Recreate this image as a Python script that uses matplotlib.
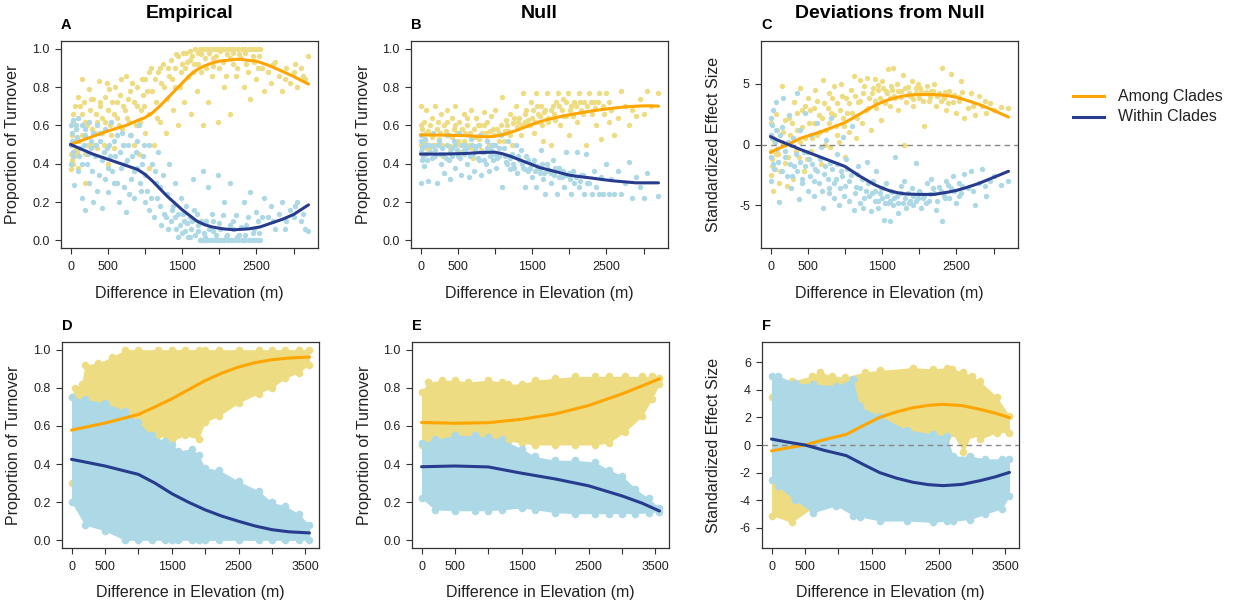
import numpy as np
import matplotlib.pyplot as plt
from matplotlib.lines import Line2D

plt.rcParams['font.family'] = ['Liberation Sans', 'DejaVu Sans']

YELLOW = '#EEDC82'
LBLUE = '#ADD8E6'
ORANGE = '#FFA500'
NAVY = '#283C8E'

# ---------------- panel A : empirical, sampled pairs ----------------
a_among = np.array([
    (0, 0.37), (0, 0.45), (10, 0.5), (20, 0.55), (30, 0.62), (40, 0.4), (50, 0.44), (60, 0.7),
    (80, 0.48), (100, 0.75), (100, 0.38), (120, 0.52), (150, 0.66), (150, 0.84), (180, 0.72),
    (200, 0.45), (200, 0.3), (220, 0.6), (250, 0.79), (260, 0.68), (300, 0.5), (300, 0.74),
    (330, 0.56), (350, 0.62), (380, 0.83), (400, 0.7), (420, 0.64), (450, 0.5), (470, 0.75),
    (500, 0.4), (500, 0.68), (520, 0.79), (550, 0.55), (580, 0.66), (600, 0.8), (620, 0.72),
    (650, 0.6), (680, 0.84), (700, 0.7), (720, 0.5), (750, 0.86), (760, 0.64), (800, 0.78),
    (820, 0.55), (850, 0.72), (880, 0.6), (900, 0.8), (920, 0.45), (950, 0.68), (980, 0.76),
    (1000, 0.56), (1000, 0.84), (1050, 0.38), (1050, 0.66), (1080, 0.9), (1100, 0.78),
    (1120, 0.5), (1150, 0.72), (1180, 0.88), (1200, 0.62), (1220, 0.82), (1250, 0.92),
    (1280, 0.56), (1300, 0.74), (1320, 0.86), (1350, 0.94), (1380, 0.68), (1400, 0.8),
    (1420, 0.97), (1450, 0.6), (1480, 0.88), (1500, 0.92), (1520, 0.72), (1550, 0.98),
    (1580, 0.85), (1600, 0.94), (1620, 0.66), (1650, 0.88), (1680, 1.0), (1700, 0.78),
    (1720, 0.92), (1750, 0.97), (1780, 0.6), (1800, 1.0), (1820, 0.9), (1850, 0.72),
    (1880, 1.0), (1900, 0.86), (1920, 0.95), (1950, 1.0), (1980, 0.62), (2000, 0.9),
    (2030, 1.0), (2060, 0.8), (2100, 0.97), (2120, 1.0), (2150, 0.66), (2180, 0.92),
    (2200, 1.0), (2230, 0.86), (2260, 0.97), (2300, 1.0), (2330, 0.8), (2360, 0.92),
    (2400, 1.0), (2420, 0.74), (2450, 0.96), (2480, 1.0), (2500, 0.84), (2520, 0.9),
    (2550, 1.0), (2600, 0.78), (2650, 0.88), (2700, 0.82), (2750, 0.93), (2800, 0.86),
    (2850, 0.78), (2900, 0.9), (2950, 0.82), (3000, 0.88), (3050, 0.8), (3100, 0.9),
    (3150, 0.84), (3200, 0.96),
    (1740, 1.0), (1780, 1.0), (1840, 1.0), (1920, 1.0), (1990, 1.0), (2070, 1.0),
    (2160, 1.0), (2250, 1.0), (2340, 1.0), (2440, 1.0), (2520, 1.0),
    (15, 0.42), (35, 0.66), (70, 0.58), (90, 0.46), (130, 0.7), (160, 0.55), (190, 0.62),
    (240, 0.5), (270, 0.74), (290, 0.58), (340, 0.66), (360, 0.48), (390, 0.72), (430, 0.56),
    (460, 0.62), (490, 0.82), (530, 0.6), (560, 0.72), (590, 0.48), (630, 0.64), (660, 0.76),
    (690, 0.58), (730, 0.68), (770, 0.74), (790, 0.62), (830, 0.82), (860, 0.5), (890, 0.7),
    (930, 0.62), (960, 0.84), (990, 0.7), (1030, 0.78), (1060, 0.88), (1130, 0.84),
    (1160, 0.64), (1210, 0.9), (1260, 0.8), (1310, 0.9), (1360, 0.84), (1410, 0.9),
    (1440, 0.96), (1470, 0.8), (1510, 0.98), (1540, 0.9), (1570, 0.93), (1610, 0.99),
    (1640, 0.96), (1660, 0.92), (1710, 0.98), (1760, 0.88), (1810, 0.95), (1860, 0.98),
    (1910, 0.91), (1960, 0.96), (2010, 0.99), (2050, 0.93), (2090, 0.86), (2140, 0.95),
    (2190, 0.98), (2240, 0.9), (2290, 0.95), (2350, 0.98), (2390, 0.88), (2470, 0.93),
    (2540, 0.96), (2580, 0.9), (2720, 0.92), (2880, 0.84), (3020, 0.92), (3120, 0.86),
])
a_within = np.array([
    (0, 0.6), (0, 0.5), (10, 0.4), (20, 0.56), (30, 0.63), (40, 0.46), (50, 0.29), (60, 0.52),
    (80, 0.58), (100, 0.36), (100, 0.64), (120, 0.44), (150, 0.6), (150, 0.22), (180, 0.5),
    (200, 0.16), (200, 0.55), (220, 0.4), (250, 0.62), (250, 0.3), (280, 0.48), (300, 0.56),
    (300, 0.2), (330, 0.44), (350, 0.6), (380, 0.34), (400, 0.52), (420, 0.17), (450, 0.46),
    (470, 0.58), (500, 0.38), (500, 0.25), (520, 0.5), (550, 0.62), (580, 0.3), (600, 0.44),
    (620, 0.55), (650, 0.2), (680, 0.38), (700, 0.5), (720, 0.28), (750, 0.15), (760, 0.42),
    (800, 0.55), (820, 0.32), (850, 0.22), (880, 0.46), (900, 0.38), (920, 0.6), (950, 0.26),
    (980, 0.44), (1000, 0.2), (1000, 0.34), (1050, 0.5), (1080, 0.22), (1100, 0.4),
    (1120, 0.12), (1150, 0.3), (1180, 0.46), (1200, 0.18), (1220, 0.08), (1250, 0.34),
    (1280, 0.12), (1300, 0.24), (1320, 0.4), (1350, 0.1), (1380, 0.18), (1400, 0.3),
    (1420, 0.06), (1450, 0.14), (1480, 0.22), (1500, 0.04), (1520, 0.1), (1550, 0.18),
    (1580, 0.02), (1600, 0.12), (1620, 0.06), (1650, 0.32), (1680, 0.03), (1700, 0.14),
    (1720, 0.08), (1750, 0.0), (1780, 0.36), (1800, 0.04), (1820, 0.1), (1850, 0.28),
    (1880, 0.0), (1900, 0.14), (1920, 0.05), (1950, 0.0), (1980, 0.34), (2000, 0.09),
    (2030, 0.0), (2060, 0.2), (2100, 0.03), (2120, 0.0), (2150, 0.3), (2180, 0.06),
    (2200, 0.0), (2230, 0.13), (2260, 0.03), (2300, 0.0), (2330, 0.2), (2360, 0.08),
    (2400, 0.0), (2420, 0.25), (2450, 0.04), (2480, 0.0), (2500, 0.15), (2520, 0.1),
    (2550, 0.0), (2600, 0.22), (2650, 0.12), (2700, 0.18), (2750, 0.06), (2800, 0.14),
    (2850, 0.2), (2900, 0.1), (2950, 0.16), (3000, 0.12), (3050, 0.2), (3100, 0.1),
    (3150, 0.06), (3200, 0.05),
    (1740, 0.0), (1790, 0.0), (1840, 0.0), (1910, 0.0), (1990, 0.0), (2070, 0.0),
    (2160, 0.0), (2250, 0.0), (2340, 0.0), (2440, 0.0), (2520, 0.0),
    (15, 0.52), (35, 0.44), (70, 0.6), (90, 0.54), (130, 0.48), (160, 0.4), (190, 0.58),
    (240, 0.45), (270, 0.52), (290, 0.36), (340, 0.5), (360, 0.26), (390, 0.56), (430, 0.42),
    (460, 0.32), (490, 0.48), (530, 0.44), (560, 0.36), (590, 0.52), (630, 0.3), (660, 0.46),
    (690, 0.56), (730, 0.4), (770, 0.5), (790, 0.24), (830, 0.44), (860, 0.36), (890, 0.52),
    (930, 0.3), (960, 0.4), (990, 0.5), (1030, 0.26), (1060, 0.16), (1130, 0.36),
    (1160, 0.22), (1210, 0.28), (1260, 0.14), (1310, 0.06), (1360, 0.16), (1410, 0.12),
    (1440, 0.02), (1470, 0.08), (1510, 0.14), (1540, 0.05), (1570, 0.09), (1610, 0.02),
    (1640, 0.1), (1660, 0.16), (1710, 0.05), (1760, 0.1), (1810, 0.02), (1860, 0.06),
    (1910, 0.1), (1960, 0.03), (2010, 0.06), (2050, 0.13), (2090, 0.02), (2140, 0.08),
    (2190, 0.1), (2240, 0.02), (2290, 0.07), (2350, 0.03), (2390, 0.12), (2470, 0.06),
    (2540, 0.04), (2580, 0.12), (2720, 0.1), (2880, 0.06), (3020, 0.18), (3120, 0.14),
])
a_among_fit = np.array([
    (0, 0.50), (250, 0.535), (500, 0.57), (750, 0.60), (900, 0.625), (1000, 0.64),
    (1100, 0.665), (1200, 0.70), (1300, 0.74), (1400, 0.78), (1500, 0.82), (1600, 0.86),
    (1700, 0.89), (1800, 0.91), (1900, 0.925), (2000, 0.935), (2250, 0.945), (2500, 0.935),
    (2650, 0.915), (2800, 0.89), (3000, 0.855), (3200, 0.815),
])
a_within_fit = np.array([
    (0, 0.50), (150, 0.475), (300, 0.45), (600, 0.41), (900, 0.37), (1000, 0.345),
    (1100, 0.31), (1200, 0.27), (1300, 0.23), (1400, 0.195), (1500, 0.16), (1600, 0.13),
    (1700, 0.10), (1800, 0.082), (1900, 0.07), (2050, 0.06), (2200, 0.055), (2400, 0.06),
    (2550, 0.07), (2700, 0.09), (2850, 0.11), (3000, 0.135), (3200, 0.185),
])

# ---------------- panel B : null, sampled pairs ----------------
b_among = np.array([
    (0, 0.7), (0, 0.6), (10, 0.5), (20, 0.55), (30, 0.45), (50, 0.62), (60, 0.52), (80, 0.68),
    (100, 0.57), (120, 0.47), (150, 0.64), (170, 0.5), (200, 0.7), (220, 0.58), (250, 0.53),
    (270, 0.66), (300, 0.44), (320, 0.6), (350, 0.68), (380, 0.55), (400, 0.49), (420, 0.64),
    (450, 0.58), (470, 0.7), (500, 0.52), (520, 0.62), (550, 0.46), (580, 0.66), (600, 0.56),
    (620, 0.6), (650, 0.5), (680, 0.68), (700, 0.43), (720, 0.58), (750, 0.64), (780, 0.53),
    (800, 0.6), (820, 0.47), (850, 0.67), (880, 0.56), (900, 0.62), (920, 0.5), (950, 0.65),
    (980, 0.58), (1000, 0.68), (1020, 0.45), (1050, 0.56), (1080, 0.6), (1100, 0.75),
    (1120, 0.52), (1150, 0.63), (1180, 0.57), (1200, 0.66), (1230, 0.5), (1250, 0.61),
    (1280, 0.7), (1300, 0.59), (1320, 0.64), (1350, 0.55), (1380, 0.77), (1400, 0.62),
    (1420, 0.68), (1450, 0.6), (1480, 0.72), (1500, 0.64), (1520, 0.56), (1550, 0.77),
    (1580, 0.66), (1600, 0.62), (1620, 0.7), (1650, 0.52), (1680, 0.68), (1700, 0.77),
    (1720, 0.64), (1750, 0.5), (1780, 0.7), (1800, 0.66), (1820, 0.72), (1850, 0.77),
    (1880, 0.6), (1900, 0.68), (1920, 0.74), (1950, 0.65), (1980, 0.77), (2000, 0.55),
    (2030, 0.7), (2060, 0.72), (2100, 0.62), (2130, 0.77), (2160, 0.68), (2200, 0.72),
    (2230, 0.5), (2260, 0.77), (2300, 0.66), (2330, 0.72), (2360, 0.6), (2400, 0.77),
    (2430, 0.53), (2460, 0.7), (2500, 0.77), (2530, 0.62), (2560, 0.68), (2600, 0.55),
    (2650, 0.64), (2700, 0.78), (2750, 0.7), (2800, 0.6), (2850, 0.68), (2900, 0.65),
    (2950, 0.74), (3000, 0.66), (3050, 0.78), (3100, 0.7), (3200, 0.77),
    (15, 0.58), (40, 0.52), (70, 0.56), (90, 0.48), (130, 0.6), (160, 0.54), (190, 0.5),
    (240, 0.62), (260, 0.56), (290, 0.5), (340, 0.57), (360, 0.62), (390, 0.48), (430, 0.54),
    (460, 0.6), (490, 0.56), (530, 0.5), (560, 0.58), (590, 0.52), (630, 0.64), (660, 0.56),
    (690, 0.48), (730, 0.54), (770, 0.6), (790, 0.5), (830, 0.56), (860, 0.6), (890, 0.52),
    (930, 0.57), (960, 0.5), (990, 0.55), (1030, 0.58), (1060, 0.52), (1130, 0.57),
    (1160, 0.6), (1210, 0.55), (1260, 0.64), (1310, 0.62), (1360, 0.6), (1410, 0.66),
    (1440, 0.63), (1470, 0.6), (1510, 0.68), (1540, 0.62), (1570, 0.7), (1610, 0.65),
    (1640, 0.6), (1660, 0.67), (1710, 0.62), (1760, 0.68), (1810, 0.63), (1860, 0.7),
    (1910, 0.65), (1960, 0.72), (2010, 0.68), (2050, 0.65), (2090, 0.7), (2140, 0.72),
    (2190, 0.66), (2240, 0.7), (2290, 0.72), (2350, 0.69), (2390, 0.72), (2470, 0.66),
    (2540, 0.72),
])
b_within = np.array([
    (0, 0.52), (0, 0.46), (0, 0.3), (10, 0.55), (20, 0.42), (30, 0.49), (50, 0.39), (60, 0.53),
    (80, 0.45), (100, 0.31), (120, 0.5), (150, 0.43), (170, 0.56), (200, 0.47), (220, 0.3),
    (250, 0.52), (270, 0.4), (300, 0.45), (320, 0.35), (350, 0.55), (380, 0.42), (400, 0.32),
    (420, 0.48), (450, 0.52), (470, 0.38), (500, 0.44), (520, 0.56), (550, 0.34), (580, 0.47),
    (600, 0.5), (620, 0.4), (650, 0.33), (680, 0.53), (700, 0.45), (720, 0.36), (750, 0.49),
    (780, 0.42), (800, 0.55), (820, 0.34), (850, 0.46), (880, 0.4), (900, 0.52), (920, 0.36),
    (950, 0.47), (980, 0.42), (1000, 0.5), (1020, 0.38), (1050, 0.44), (1080, 0.55),
    (1100, 0.28), (1120, 0.48), (1150, 0.41), (1180, 0.52), (1200, 0.37), (1230, 0.45),
    (1250, 0.4), (1280, 0.5), (1300, 0.35), (1320, 0.42), (1350, 0.47), (1380, 0.38),
    (1400, 0.28), (1420, 0.44), (1450, 0.36), (1480, 0.4), (1500, 0.33), (1520, 0.42),
    (1550, 0.28), (1580, 0.38), (1600, 0.35), (1620, 0.47), (1650, 0.32), (1680, 0.24),
    (1700, 0.4), (1720, 0.36), (1750, 0.3), (1780, 0.42), (1800, 0.34), (1830, 0.24),
    (1860, 0.38), (1900, 0.33), (1930, 0.28), (1960, 0.46), (2000, 0.35), (2030, 0.24),
    (2060, 0.3), (2100, 0.46), (2130, 0.28), (2160, 0.34), (2200, 0.24), (2230, 0.45),
    (2260, 0.3), (2300, 0.24), (2330, 0.36), (2360, 0.28), (2400, 0.24), (2430, 0.33),
    (2460, 0.24), (2500, 0.4), (2530, 0.24), (2560, 0.32), (2600, 0.24), (2650, 0.36),
    (2700, 0.24), (2750, 0.3), (2800, 0.41), (2850, 0.22), (2900, 0.33), (2950, 0.28),
    (3000, 0.22), (3050, 0.35), (3200, 0.23),
    (15, 0.48), (40, 0.44), (70, 0.5), (90, 0.42), (130, 0.46), (160, 0.49), (190, 0.44),
    (240, 0.5), (260, 0.45), (290, 0.48), (340, 0.43), (360, 0.5), (390, 0.46), (430, 0.44),
    (460, 0.5), (490, 0.47), (530, 0.43), (560, 0.5), (590, 0.45), (630, 0.48), (660, 0.44),
    (690, 0.5), (730, 0.47), (770, 0.43), (790, 0.5), (830, 0.46), (860, 0.42), (890, 0.48),
    (930, 0.44), (960, 0.5), (990, 0.45), (1030, 0.43), (1060, 0.48), (1130, 0.44),
    (1160, 0.4), (1210, 0.43), (1260, 0.38), (1310, 0.44), (1360, 0.4), (1410, 0.37),
    (1440, 0.42), (1470, 0.38), (1510, 0.4), (1540, 0.36), (1570, 0.39), (1610, 0.37),
    (1640, 0.4), (1660, 0.35), (1710, 0.37), (1760, 0.35), (1810, 0.38), (1860, 0.33),
    (1910, 0.36), (1960, 0.34), (2010, 0.32), (2050, 0.36), (2090, 0.33), (2140, 0.31),
    (2190, 0.34), (2240, 0.3),
])
b_among_fit = np.array([
    (0, 0.55), (300, 0.549), (600, 0.546), (900, 0.54), (1000, 0.543), (1100, 0.55),
    (1200, 0.562), (1300, 0.575), (1400, 0.59), (1500, 0.605), (1600, 0.618), (1700, 0.63),
    (1850, 0.643), (2000, 0.655), (2150, 0.665), (2300, 0.675), (2450, 0.683), (2600, 0.69),
    (2750, 0.696), (2900, 0.70), (3050, 0.702), (3200, 0.70),
])
b_within_fit = np.array([
    (0, 0.45), (300, 0.45), (600, 0.453), (800, 0.458), (1000, 0.46), (1100, 0.452),
    (1200, 0.44), (1300, 0.425), (1400, 0.41), (1500, 0.395), (1600, 0.38), (1700, 0.37),
    (1800, 0.36), (1900, 0.35), (2000, 0.34), (2150, 0.332), (2300, 0.325), (2450, 0.317),
    (2600, 0.31), (2750, 0.305), (2900, 0.30), (3200, 0.30),
])

# ---------------- panel C : deviations, sampled pairs ----------------
c_among = np.array([
    (0, -0.5), (0, 0.8), (0, -2.5), (10, 1.8), (20, -1.2), (30, -3.8), (50, 0.3), (60, -2.0),
    (80, 2.5), (100, -0.8), (120, -3.2), (150, 4.8), (170, 1.0), (200, -1.5), (220, -3.4),
    (250, 2.2), (270, 0.0), (300, -2.8), (320, 3.5), (350, 1.2), (380, -1.0), (400, 4.6),
    (420, 2.8), (450, -2.2), (470, 0.5), (500, 3.8), (520, 1.8), (550, -0.5), (580, 3.0),
    (600, 4.5), (620, 0.8), (650, 2.4), (680, -1.6), (700, 5.3), (720, 3.4), (750, 1.2),
    (780, 4.2), (800, -0.2), (820, 2.6), (850, 4.8), (880, 1.5), (900, 3.4), (920, 0.2),
    (950, 5.0), (980, 2.2), (1000, -1.0), (1020, 3.8), (1050, 1.0), (1080, 4.5), (1100, 2.6),
    (1120, 5.6), (1150, 0.5), (1180, 3.5), (1200, 5.3), (1230, 1.8), (1250, 4.2), (1280, 2.8),
    (1300, 5.5), (1320, 3.8), (1350, 1.2), (1380, 4.6), (1400, 5.4), (1420, 3.0), (1450, 4.9),
    (1480, 2.0), (1500, 5.2), (1520, 3.6), (1550, 4.4), (1580, 6.2), (1600, 3.2), (1620, 4.8),
    (1650, 6.3), (1680, 3.8), (1700, 5.0), (1720, 2.8), (1750, 4.4), (1780, 5.7), (1800, 0.0),
    (1820, 3.5), (1850, 4.7), (1880, 4.0), (1900, 5.2), (1920, 3.2), (1950, 4.6), (1980, 5.0),
    (2000, 3.8), (2030, 4.3), (2060, 1.5), (2100, 4.8), (2130, 3.6), (2160, 4.4), (2200, 5.0),
    (2230, 3.2), (2260, 4.2), (2300, 6.3), (2330, 3.8), (2360, 2.8), (2400, 4.4), (2430, 5.8),
    (2460, 3.5), (2500, 2.6), (2530, 3.9), (2560, 5.2), (2600, 2.2), (2650, 3.0), (2700, 4.2),
    (2750, 2.4), (2800, 4.0), (2850, 3.2), (2900, 2.6), (2950, 3.4), (3000, 2.8), (3100, 3.1),
    (3200, 3.0),
    (15, -1.8), (40, 0.5), (70, -0.8), (90, 1.2), (130, -2.2), (160, 0.2), (190, 2.0),
    (240, -1.0), (260, 0.8), (290, 1.8), (340, -0.5), (360, 2.6), (390, 0.2), (430, 1.4),
    (460, 3.2), (490, -1.2), (530, 2.8), (560, 0.5), (590, 1.8), (630, 3.6), (660, 1.0),
    (690, 2.2), (730, 0.0), (770, 3.0), (790, 1.8), (830, 3.8), (860, 2.4), (890, 0.8),
    (930, 2.8), (960, 4.0), (990, 1.5), (1030, 2.6), (1060, 3.4), (1130, 4.0), (1160, 2.2),
    (1210, 3.6), (1260, 4.8), (1310, 3.0), (1360, 4.2), (1410, 3.6), (1440, 4.5), (1470, 3.8),
    (1510, 4.6), (1540, 3.4), (1570, 4.2), (1610, 3.8), (1640, 4.5), (1660, 4.0), (1710, 4.4),
    (1760, 3.9), (1810, 4.6), (1860, 4.2), (1910, 3.7), (1960, 4.2), (2010, 4.6), (2050, 3.6),
    (2090, 4.3), (2140, 3.9), (2190, 4.4), (2240, 4.0), (2290, 3.6), (2350, 4.3), (2390, 3.4),
    (2470, 4.1), (2540, 3.6), (2580, 4.3), (2720, 3.2), (2880, 3.6),
])
c_within = np.array([
    (0, 2.2), (0, -1.0), (0, 0.8), (10, -3.0), (20, 1.6), (30, 2.8), (50, -2.0), (60, 0.2),
    (80, 3.5), (100, -1.4), (120, -4.7), (150, 1.4), (170, 3.8), (200, -0.5), (220, -2.6),
    (250, 2.4), (270, -3.6), (300, 0.5), (320, -1.8), (350, 4.2), (380, -4.5), (400, 1.2),
    (420, -2.8), (450, -0.6), (470, 2.6), (500, -3.8), (520, -1.2), (550, 0.8), (580, -4.2),
    (600, -2.0), (620, 1.8), (650, -3.2), (680, -0.2), (700, -5.2), (720, -2.4), (750, 0.4),
    (780, -3.6), (800, -1.5), (820, 2.2), (850, -4.4), (880, -2.8), (900, -0.8), (920, -5.0),
    (950, -2.2), (980, 0.6), (1000, -3.4), (1020, -1.2), (1050, -4.6), (1080, -2.5),
    (1100, 1.5), (1120, -5.4), (1150, -3.5), (1180, -1.8), (1200, -4.8), (1230, -2.8),
    (1250, -5.2), (1280, -3.8), (1300, -1.4), (1320, -4.2), (1350, -5.5), (1380, -3.0),
    (1400, -4.6), (1420, -2.2), (1450, -5.2), (1480, -3.6), (1500, -4.4), (1520, -6.2),
    (1550, -3.2), (1580, -4.8), (1600, -6.3), (1620, -3.8), (1650, -5.0), (1680, -1.0),
    (1700, -4.2), (1720, -5.6), (1750, -3.4), (1780, -4.8), (1800, -3.0), (1820, -5.2),
    (1850, -4.0), (1880, -4.6), (1900, -3.6), (1920, -5.0), (1950, -1.5), (1980, -4.4),
    (2000, -3.8), (2030, -5.2), (2060, -4.2), (2100, -3.2), (2130, -4.6), (2160, -2.8),
    (2200, -4.0), (2230, -5.4), (2260, -3.5), (2300, -6.3), (2330, -4.2), (2360, -3.0),
    (2400, -4.4), (2430, -3.6), (2460, -2.6), (2500, -4.8), (2530, -3.2), (2560, -4.0),
    (2600, -2.4), (2650, -3.6), (2700, -2.2), (2750, -5.0), (2800, -3.2), (2850, -2.0),
    (2900, -4.2), (2950, -3.0), (3000, -2.6), (3100, -3.3), (3200, -3.0),
    (15, 0.5), (40, -1.6), (70, 1.2), (90, -0.4), (130, 0.8), (160, -2.2), (190, -1.0),
    (240, 0.2), (260, -1.6), (290, -2.6), (340, -0.8), (360, -2.2), (390, -1.4), (430, -3.2),
    (460, -1.8), (490, -0.6), (530, -2.6), (560, -1.6), (590, -3.0), (630, -2.2), (660, -1.2),
    (690, -3.8), (730, -1.8), (770, -2.8), (790, -4.0), (830, -2.0), (860, -3.2), (890, -1.6),
    (930, -3.6), (960, -2.6), (990, -4.2), (1030, -2.0), (1060, -3.0), (1130, -4.0),
    (1160, -2.4), (1210, -3.6), (1260, -4.4), (1310, -3.2), (1360, -4.0), (1410, -3.8),
    (1440, -4.6), (1470, -4.0), (1510, -3.6), (1540, -4.8), (1570, -4.2), (1610, -4.6),
    (1640, -3.9), (1660, -4.4), (1710, -4.8), (1760, -4.0), (1810, -4.4), (1860, -4.8),
    (1910, -4.2), (1960, -4.6), (2010, -4.0), (2050, -4.4), (2090, -4.8), (2140, -4.1),
    (2190, -3.6), (2240, -4.6), (2290, -3.8), (2350, -4.4), (2390, -3.3), (2470, -3.8),
    (2540, -4.2), (2580, -3.4), (2720, -3.8), (2880, -3.4),
])
c_among_fit = np.array([
    (0, -0.65), (100, -0.35), (200, -0.1), (300, 0.2), (400, 0.5), (550, 0.8), (700, 1.1),
    (850, 1.45), (1000, 1.8), (1100, 2.15), (1200, 2.5), (1300, 2.85), (1400, 3.2),
    (1500, 3.47), (1600, 3.7), (1700, 3.87), (1800, 4.0), (1900, 4.07), (2000, 4.1),
    (2200, 4.1), (2400, 4.0), (2500, 3.87), (2600, 3.7), (2700, 3.5), (2800, 3.3),
    (3000, 2.8), (3200, 2.25),
])
c_within_fit = np.array([
    (0, 0.65), (100, 0.35), (200, 0.1), (300, -0.15), (400, -0.4), (550, -0.75), (700, -1.1),
    (850, -1.45), (1000, -1.8), (1100, -2.2), (1200, -2.6), (1300, -2.95), (1400, -3.3),
    (1500, -3.57), (1600, -3.8), (1700, -3.95), (1800, -4.05), (1900, -4.08), (2000, -4.1),
    (2200, -4.1), (2400, -3.9), (2500, -3.77), (2600, -3.6), (2700, -3.4), (2800, -3.2),
    (3000, -2.7), (3200, -2.2),
])

# ---------------- bottom row : point clouds as (x, lower, upper) envelopes ----------------
d_among_x = [0, 50, 150, 200, 400, 600, 800, 1000, 1300, 1500, 1700, 1900, 2000, 2200, 2500, 2800, 3000, 3200, 3400, 3560]
d_among_lo = [0.30, 0.45, 0.50, 0.50, 0.52, 0.55, 0.55, 0.55, 0.55, 0.52, 0.55, 0.53, 0.62, 0.65, 0.72, 0.77, 0.80, 0.85, 0.88, 0.92]
d_among_hi = [0.75, 0.80, 0.82, 0.92, 0.93, 0.96, 1.0, 1.0, 1.0, 1.0, 1.0, 1.0, 1.0, 1.0, 1.0, 1.0, 1.0, 1.0, 1.0, 1.0]
d_within_x = [0, 200, 500, 800, 1000, 1200, 1400, 1500, 1600, 1800, 1900, 2000, 2200, 2500, 2800, 3000, 3200, 3400, 3560]
d_within_lo = [0.20, 0.08, 0.05, 0.0, 0.0, 0.0, 0.0, 0.0, 0.0, 0.0, 0.0, 0.0, 0.0, 0.0, 0.0, 0.0, 0.0, 0.0, 0.0]
d_within_hi = [0.75, 0.74, 0.72, 0.68, 0.62, 0.55, 0.52, 0.50, 0.47, 0.48, 0.45, 0.38, 0.37, 0.31, 0.26, 0.20, 0.18, 0.14, 0.08]
d_among_fit = np.array([(0, 0.578), (500, 0.615), (1000, 0.66), (1250, 0.70), (1500, 0.742),
                        (1750, 0.79), (2000, 0.838), (2250, 0.877), (2500, 0.909), (2750, 0.932),
                        (3000, 0.947), (3250, 0.956), (3560, 0.961)])
d_within_fit = np.array([(0, 0.425), (500, 0.39), (1000, 0.346), (1250, 0.30), (1500, 0.245),
                         (1750, 0.20), (2000, 0.16), (2250, 0.127), (2500, 0.10), (2750, 0.075),
                         (3000, 0.056), (3250, 0.045), (3560, 0.039)])

e_among_x = [0, 100, 300, 500, 700, 1000, 1200, 1300, 1500, 1700, 2000, 2300, 2600, 2800, 3050, 3300, 3450, 3560]
e_among_lo = [0.50, 0.50, 0.51, 0.50, 0.51, 0.50, 0.51, 0.52, 0.51, 0.50, 0.50, 0.50, 0.50, 0.51, 0.57, 0.65, 0.74, 0.82]
e_among_hi = [0.78, 0.83, 0.84, 0.84, 0.83, 0.84, 0.83, 0.82, 0.82, 0.84, 0.85, 0.86, 0.86, 0.86, 0.86, 0.86, 0.86, 0.85]
e_within_x = [0, 200, 500, 800, 1000, 1200, 1500, 1700, 2000, 2300, 2600, 2800, 3000, 3200, 3400, 3560]
e_within_lo = [0.22, 0.16, 0.155, 0.155, 0.155, 0.16, 0.17, 0.16, 0.145, 0.14, 0.14, 0.14, 0.14, 0.14, 0.145, 0.15]
e_within_hi = [0.51, 0.53, 0.55, 0.55, 0.54, 0.53, 0.48, 0.44, 0.42, 0.42, 0.41, 0.37, 0.34, 0.27, 0.22, 0.17]
e_among_fit = np.array([(0, 0.618), (500, 0.614), (1000, 0.617), (1500, 0.635), (2000, 0.663),
                        (2500, 0.707), (3000, 0.768), (3300, 0.81), (3560, 0.847)])
e_within_fit = np.array([(0, 0.386), (500, 0.39), (1000, 0.385), (1500, 0.352), (2000, 0.322),
                         (2500, 0.286), (3000, 0.233), (3300, 0.195), (3560, 0.154)])

f_among_x = [0, 300, 600, 720, 900, 1100, 1400, 1620, 2120, 2420, 2620, 2700, 2870, 3000, 3120, 3370, 3560]
f_among_lo = [-5.1, -5.6, -4.6, -4.4, -4.2, -3.0, 0.5, 1.1, 0.65, 0.8, -0.3, 0.9, -0.5, 0.8, 0.4, 0.9, 0.9]
f_among_hi = [3.5, 4.6, 5.0, 5.3, 5.0, 4.9, 5.3, 5.4, 5.6, 5.5, 5.6, 5.5, 5.3, 5.0, 4.6, 3.5, 2.1]
f_within_x = [0, 100, 350, 620, 970, 1220, 1320, 1620, 2020, 2420, 2620, 2720, 2970, 3200, 3450, 3560]
f_within_lo = [-2.5, -3.0, -4.0, -4.9, -4.4, -5.1, -5.2, -5.5, -5.5, -5.6, -5.5, -5.5, -5.4, -5.0, -4.6, -3.7]
f_within_hi = [5.0, 5.0, 4.5, 4.4, 4.3, 4.8, 2.8, 2.1, 1.1, 0.8, 0.65, -0.8, -0.8, -1.0, -1.0, -1.0]
f_among_fit = np.array([(0, -0.43), (250, -0.2), (500, 0.0), (800, 0.4), (1120, 0.77),
                        (1370, 1.4), (1620, 2.0), (1870, 2.4), (2120, 2.7), (2350, 2.87),
                        (2570, 2.94), (2850, 2.85), (3120, 2.58), (3350, 2.3), (3560, 1.98)])
f_within_fit = np.array([(0, 0.43), (250, 0.2), (500, 0.0), (800, -0.4), (1120, -0.77),
                         (1370, -1.4), (1620, -2.0), (1870, -2.4), (2120, -2.7), (2350, -2.87),
                         (2570, -2.94), (2850, -2.85), (3120, -2.58), (3350, -2.3), (3560, -1.98)])

prop_ticks = [0.0, 0.2, 0.4, 0.6, 0.8, 1.0]

W, H = 1237, 605
fig = plt.figure(figsize=(W / 100, H / 100), dpi=100)


def make_ax(left, top, width, height):
    return fig.add_axes([left / W, 1 - (top + height) / H, width / W, height / H])


def style(ax, xmax, tickmax, ylim, yticks, ylabels, ylab, letter):
    ax.set_xlim(-0.04 * xmax, 1.04 * xmax)
    ax.set_ylim(*ylim)
    xt = np.arange(0, tickmax + 1, 500)
    ax.set_xticks(xt)
    ax.set_xticklabels([str(v) if v in (0, 500, 1500, 2500, 3500) else '' for v in xt])
    ax.set_yticks(yticks)
    ax.set_yticklabels(ylabels)
    for s in ax.spines.values():
        s.set_color('#333333')
        s.set_linewidth(0.9)
    ax.tick_params(direction='out', length=4, width=0.8, color='#333333',
                   labelsize=9, labelcolor='#222222')
    ax.tick_params(axis='x', pad=5)
    ax.tick_params(axis='y', pad=4)
    ax.text(-48 / 257, 0.5, ylab, rotation=90, ha='center', va='center',
            fontsize=11.5, color='#222222', transform=ax.transAxes)
    ax.text(0.5, -45 / 207, 'Difference in Elevation (m)', ha='center', va='center',
            fontsize=11.5, color='#222222', transform=ax.transAxes)
    ax.text(0.0, 1.045, letter, ha='left', va='bottom', fontsize=10.5,
            fontweight='bold', transform=ax.transAxes)


def top_panel(ax, among, within, among_fit, within_fit):
    ax.scatter(among[:, 0], among[:, 1], s=15, color=YELLOW, linewidths=0, zorder=2)
    ax.scatter(within[:, 0], within[:, 1], s=15, color=LBLUE, linewidths=0, zorder=2)
    ax.plot(among_fit[:, 0], among_fit[:, 1], color=ORANGE, lw=2.2, zorder=4,
            solid_capstyle='round')
    ax.plot(within_fit[:, 0], within_fit[:, 1], color=NAVY, lw=2.2, zorder=4,
            solid_capstyle='round')


def cloud(ax, x, lo, hi, color, z):
    ax.fill_between(x, lo, hi, color=color, linewidth=0, zorder=z)
    ax.scatter(x, lo, s=30, color=color, linewidths=0, zorder=z)
    ax.scatter(x, hi, s=30, color=color, linewidths=0, zorder=z)


def bottom_panel(ax, a_x, a_lo, a_hi, w_x, w_lo, w_hi, among_fit, within_fit):
    cloud(ax, a_x, a_lo, a_hi, YELLOW, 2)
    cloud(ax, w_x, w_lo, w_hi, LBLUE, 2.5)
    ax.plot(among_fit[:, 0], among_fit[:, 1], color=ORANGE, lw=2.2, zorder=4,
            solid_capstyle='round')
    ax.plot(within_fit[:, 0], within_fit[:, 1], color=NAVY, lw=2.2, zorder=4,
            solid_capstyle='round')


pw, ph = 257, 207
axA = make_ax(61, 41, pw, ph)
axB = make_ax(411, 41, pw, ph)
axC = make_ax(761, 41, pw, ph)
axD = make_ax(62, 342, pw, 206)
axE = make_ax(412, 342, pw, 206)
axF = make_ax(762, 342, pw, 206)

prop_labels = ['%.1f' % v for v in prop_ticks]

top_panel(axA, a_among, a_within, a_among_fit, a_within_fit)
style(axA, 3200, 3000, (-0.04, 1.04), prop_ticks, prop_labels, 'Proportion of Turnover', 'A')

top_panel(axB, b_among, b_within, b_among_fit, b_within_fit)
style(axB, 3200, 3000, (-0.04, 1.04), prop_ticks, prop_labels, 'Proportion of Turnover', 'B')

axC.axhline(0, color='#888888', lw=1, ls=(0, (4, 3)), zorder=3)
top_panel(axC, c_among, c_within, c_among_fit, c_within_fit)
style(axC, 3200, 3000, (-8.5, 8.5), [-5, 0, 5], ['-5', '0', '5'], 'Standardized Effect Size', 'C')

bottom_panel(axD, d_among_x, d_among_lo, d_among_hi, d_within_x, d_within_lo, d_within_hi,
             d_among_fit, d_within_fit)
style(axD, 3560, 3500, (-0.04, 1.04), prop_ticks, prop_labels, 'Proportion of Turnover', 'D')

bottom_panel(axE, e_among_x, e_among_lo, e_among_hi, e_within_x, e_within_lo, e_within_hi,
             e_among_fit, e_within_fit)
style(axE, 3560, 3500, (-0.04, 1.04), prop_ticks, prop_labels, 'Proportion of Turnover', 'E')

axF.axhline(0, color='#888888', lw=1, ls=(0, (4, 3)), zorder=3)
bottom_panel(axF, f_among_x, f_among_lo, f_among_hi, f_within_x, f_within_lo, f_within_hi,
             f_among_fit, f_within_fit)
style(axF, 3560, 3500, (-7.45, 7.45), [-6, -4, -2, 0, 2, 4, 6],
      ['-6', '-4', '-2', '0', '2', '4', '6'], 'Standardized Effect Size', 'F')

# column titles
for ax, title in [(axA, 'Empirical'), (axB, 'Null'), (axC, 'Deviations from Null')]:
    ax.text(0.5, 1 + 28 / 207, title, ha='center', va='center', fontsize=14,
            fontweight='bold', transform=ax.transAxes)

# legend
for y, col, lab in [(96, ORANGE, 'Among Clades'), (117, NAVY, 'Within Clades')]:
    fig.add_artist(Line2D([1073 / W, 1104 / W], [1 - y / H, 1 - y / H], color=col, lw=2.2,
                          transform=fig.transFigure))
    fig.text(1118 / W, 1 - y / H, lab, ha='left', va='center', fontsize=11.5, color='#222222')

fig.savefig('out.png', dpi=100)
